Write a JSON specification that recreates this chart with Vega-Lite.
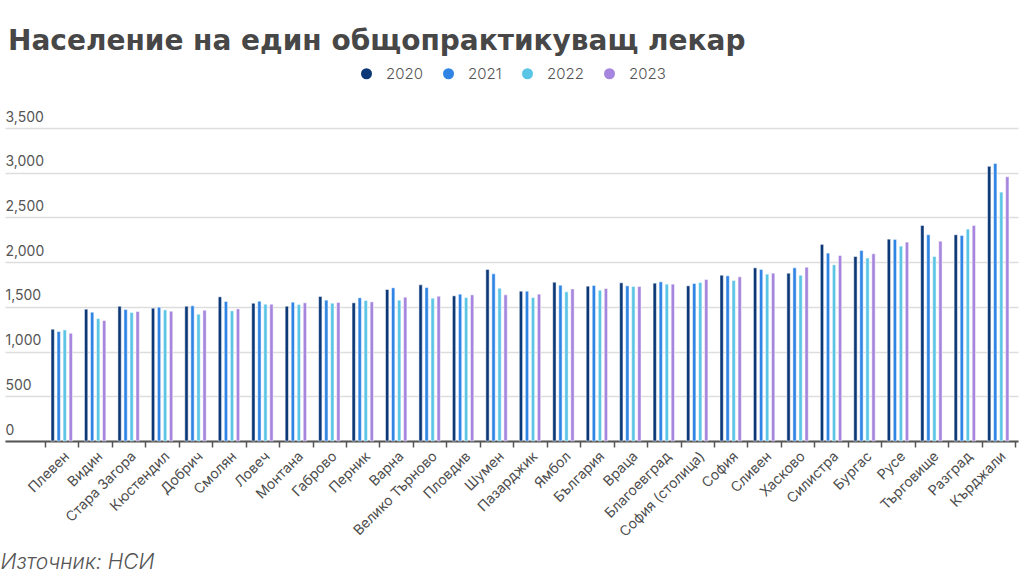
{
  "$schema": "https://vega.github.io/schema/vega-lite/v6.json",
  "autosize": {"type": "none"},
  "width": 1013,
  "height": 313,
  "padding": {"left": 5, "top": 128, "right": 6, "bottom": 145},
  "background": "white",
  "title": {
    "text": "Население на един общопрактикуващ лекар",
    "anchor": "start",
    "frame": "group",
    "font": "DejaVu Sans",
    "fontSize": 28,
    "fontWeight": "bold",
    "color": "#474747",
    "baseline": "middle",
    "dx": 3,
    "offset": 0,
    "dy": 4
  },
  "config": {
    "font": "Inter",
    "view": {"stroke": null}
  },
  "data": {
    "values": [
      {"r": "Плевен", "y": "2020", "v": 1250}, {"r": "Плевен", "y": "2021", "v": 1224}, {"r": "Плевен", "y": "2022", "v": 1242}, {"r": "Плевен", "y": "2023", "v": 1205},
      {"r": "Видин", "y": "2020", "v": 1474}, {"r": "Видин", "y": "2021", "v": 1440}, {"r": "Видин", "y": "2022", "v": 1369}, {"r": "Видин", "y": "2023", "v": 1347},
      {"r": "Стара Загора", "y": "2020", "v": 1507}, {"r": "Стара Загора", "y": "2021", "v": 1470}, {"r": "Стара Загора", "y": "2022", "v": 1436}, {"r": "Стара Загора", "y": "2023", "v": 1448},
      {"r": "Кюстендил", "y": "2020", "v": 1485}, {"r": "Кюстендил", "y": "2021", "v": 1496}, {"r": "Кюстендил", "y": "2022", "v": 1466}, {"r": "Кюстендил", "y": "2023", "v": 1451},
      {"r": "Добрич", "y": "2020", "v": 1507}, {"r": "Добрич", "y": "2021", "v": 1511}, {"r": "Добрич", "y": "2022", "v": 1418}, {"r": "Добрич", "y": "2023", "v": 1463},
      {"r": "Смолян", "y": "2020", "v": 1612}, {"r": "Смолян", "y": "2021", "v": 1560}, {"r": "Смолян", "y": "2022", "v": 1455}, {"r": "Смолян", "y": "2023", "v": 1477},
      {"r": "Ловеч", "y": "2020", "v": 1541}, {"r": "Ловеч", "y": "2021", "v": 1563}, {"r": "Ловеч", "y": "2022", "v": 1530}, {"r": "Ловеч", "y": "2023", "v": 1530},
      {"r": "Монтана", "y": "2020", "v": 1507}, {"r": "Монтана", "y": "2021", "v": 1552}, {"r": "Монтана", "y": "2022", "v": 1526}, {"r": "Монтана", "y": "2023", "v": 1545},
      {"r": "Габрово", "y": "2020", "v": 1616}, {"r": "Габрово", "y": "2021", "v": 1575}, {"r": "Габрово", "y": "2022", "v": 1541}, {"r": "Габрово", "y": "2023", "v": 1548},
      {"r": "Перник", "y": "2020", "v": 1545}, {"r": "Перник", "y": "2021", "v": 1601}, {"r": "Перник", "y": "2022", "v": 1571}, {"r": "Перник", "y": "2023", "v": 1556},
      {"r": "Варна", "y": "2020", "v": 1694}, {"r": "Варна", "y": "2021", "v": 1713}, {"r": "Варна", "y": "2022", "v": 1575}, {"r": "Варна", "y": "2023", "v": 1608},
      {"r": "Велико Търново", "y": "2020", "v": 1746}, {"r": "Велико Търново", "y": "2021", "v": 1716}, {"r": "Велико Търново", "y": "2022", "v": 1597}, {"r": "Велико Търново", "y": "2023", "v": 1619},
      {"r": "Пловдив", "y": "2020", "v": 1623}, {"r": "Пловдив", "y": "2021", "v": 1642}, {"r": "Пловдив", "y": "2022", "v": 1604}, {"r": "Пловдив", "y": "2023", "v": 1634},
      {"r": "Шумен", "y": "2020", "v": 1918}, {"r": "Шумен", "y": "2021", "v": 1869}, {"r": "Шумен", "y": "2022", "v": 1709}, {"r": "Шумен", "y": "2023", "v": 1634},
      {"r": "Пазарджик", "y": "2020", "v": 1675}, {"r": "Пазарджик", "y": "2021", "v": 1675}, {"r": "Пазарджик", "y": "2022", "v": 1604}, {"r": "Пазарджик", "y": "2023", "v": 1642},
      {"r": "Ямбол", "y": "2020", "v": 1776}, {"r": "Ямбол", "y": "2021", "v": 1742}, {"r": "Ямбол", "y": "2022", "v": 1668}, {"r": "Ямбол", "y": "2023", "v": 1701},
      {"r": "България", "y": "2020", "v": 1731}, {"r": "България", "y": "2021", "v": 1739}, {"r": "България", "y": "2022", "v": 1686}, {"r": "България", "y": "2023", "v": 1705},
      {"r": "Враца", "y": "2020", "v": 1769}, {"r": "Враца", "y": "2021", "v": 1735}, {"r": "Враца", "y": "2022", "v": 1727}, {"r": "Враца", "y": "2023", "v": 1727},
      {"r": "Благоевград", "y": "2020", "v": 1765}, {"r": "Благоевград", "y": "2021", "v": 1780}, {"r": "Благоевград", "y": "2022", "v": 1754}, {"r": "Благоевград", "y": "2023", "v": 1754},
      {"r": "София (столица)", "y": "2020", "v": 1735}, {"r": "София (столица)", "y": "2021", "v": 1761}, {"r": "София (столица)", "y": "2022", "v": 1772}, {"r": "София (столица)", "y": "2023", "v": 1806},
      {"r": "София", "y": "2020", "v": 1854}, {"r": "София", "y": "2021", "v": 1847}, {"r": "София", "y": "2022", "v": 1795}, {"r": "София", "y": "2023", "v": 1836},
      {"r": "Сливен", "y": "2020", "v": 1936}, {"r": "Сливен", "y": "2021", "v": 1918}, {"r": "Сливен", "y": "2022", "v": 1866}, {"r": "Сливен", "y": "2023", "v": 1877},
      {"r": "Хасково", "y": "2020", "v": 1877}, {"r": "Хасково", "y": "2021", "v": 1936}, {"r": "Хасково", "y": "2022", "v": 1854}, {"r": "Хасково", "y": "2023", "v": 1944},
      {"r": "Силистра", "y": "2020", "v": 2198}, {"r": "Силистра", "y": "2021", "v": 2101}, {"r": "Силистра", "y": "2022", "v": 1970}, {"r": "Силистра", "y": "2023", "v": 2074},
      {"r": "Бургас", "y": "2020", "v": 2063}, {"r": "Бургас", "y": "2021", "v": 2130}, {"r": "Бургас", "y": "2022", "v": 2045}, {"r": "Бургас", "y": "2023", "v": 2093},
      {"r": "Русе", "y": "2020", "v": 2257}, {"r": "Русе", "y": "2021", "v": 2254}, {"r": "Русе", "y": "2022", "v": 2179}, {"r": "Русе", "y": "2023", "v": 2224},
      {"r": "Търговище", "y": "2020", "v": 2410}, {"r": "Търговище", "y": "2021", "v": 2306}, {"r": "Търговище", "y": "2022", "v": 2063}, {"r": "Търговище", "y": "2023", "v": 2235},
      {"r": "Разград", "y": "2020", "v": 2306}, {"r": "Разград", "y": "2021", "v": 2298}, {"r": "Разград", "y": "2022", "v": 2369}, {"r": "Разград", "y": "2023", "v": 2410},
      {"r": "Кърджали", "y": "2020", "v": 3071}, {"r": "Кърджали", "y": "2021", "v": 3104}, {"r": "Кърджали", "y": "2022", "v": 2783}, {"r": "Кърджали", "y": "2023", "v": 2955}
    ]
  },
  "mark": {"type": "bar", "stroke": "white", "strokeWidth": 0.5},
  "encoding": {
    "x": {
      "field": "r",
      "type": "nominal",
      "sort": null,
      "scale": {"paddingInner": 0, "paddingOuter": 0.643, "align": 0.93},
      "axis": {
        "title": "Източник: НСИ",
        "titleFont": "Inter",
        "titleFontSize": 21,
        "titleFontStyle": "italic",
        "titleFontWeight": 300,
        "titleColor": "#555555",
        "titleAnchor": null,
        "titleAlign": "left",
        "titleBaseline": "middle",
        "titleX": -5,
        "titleY": 121,
        "labelAngle": -45,
        "labelAlign": "right",
        "labelBaseline": "top",
        "labelFontSize": 14,
        "labelColor": "#4d4d4d",
        "labelPadding": 2,
        "labelOverlap": false,
        "tickBand": "extent",
        "tickSize": 6,
        "tickColor": "#555555",
        "tickWidth": 1.5,
        "domainColor": "#555555",
        "domainWidth": 2,
        "grid": false
      }
    },
    "xOffset": {
      "field": "y",
      "type": "nominal",
      "scale": {"paddingInner": 0.45, "paddingOuter": 1.05}
    },
    "y": {
      "field": "v",
      "type": "quantitative",
      "scale": {"domain": [0, 3500]},
      "axis": {
        "title": null,
        "values": [0, 500, 1000, 1500, 2000, 2500, 3000, 3500],
        "format": ",d",
        "domain": false,
        "ticks": false,
        "tickSize": 0,
        "labelAlign": "left",
        "labelBaseline": "bottom",
        "labelPadding": 0,
        "labelOffset": -4,
        "labelFontSize": 14,
        "labelColor": "#555555",
        "gridColor": "#dddddd",
        "gridWidth": 1.5
      }
    },
    "color": {
      "field": "y",
      "type": "nominal",
      "scale": {"domain": ["2020", "2021", "2022", "2023"], "range": ["#0c3877", "#2f84e4", "#5bc5e6", "#a685de"]},
      "legend": {
        "title": null,
        "orient": "none",
        "direction": "horizontal",
        "legendX": 354,
        "legendY": -62,
        "symbolType": "circle",
        "symbolSize": 121,
        "symbolStrokeWidth": 0,
        "labelFontSize": 15,
        "labelFontWeight": 300,
        "labelColor": "#555555",
        "labelOffset": 12,
        "columnPadding": 18
      }
    }
  }
}
